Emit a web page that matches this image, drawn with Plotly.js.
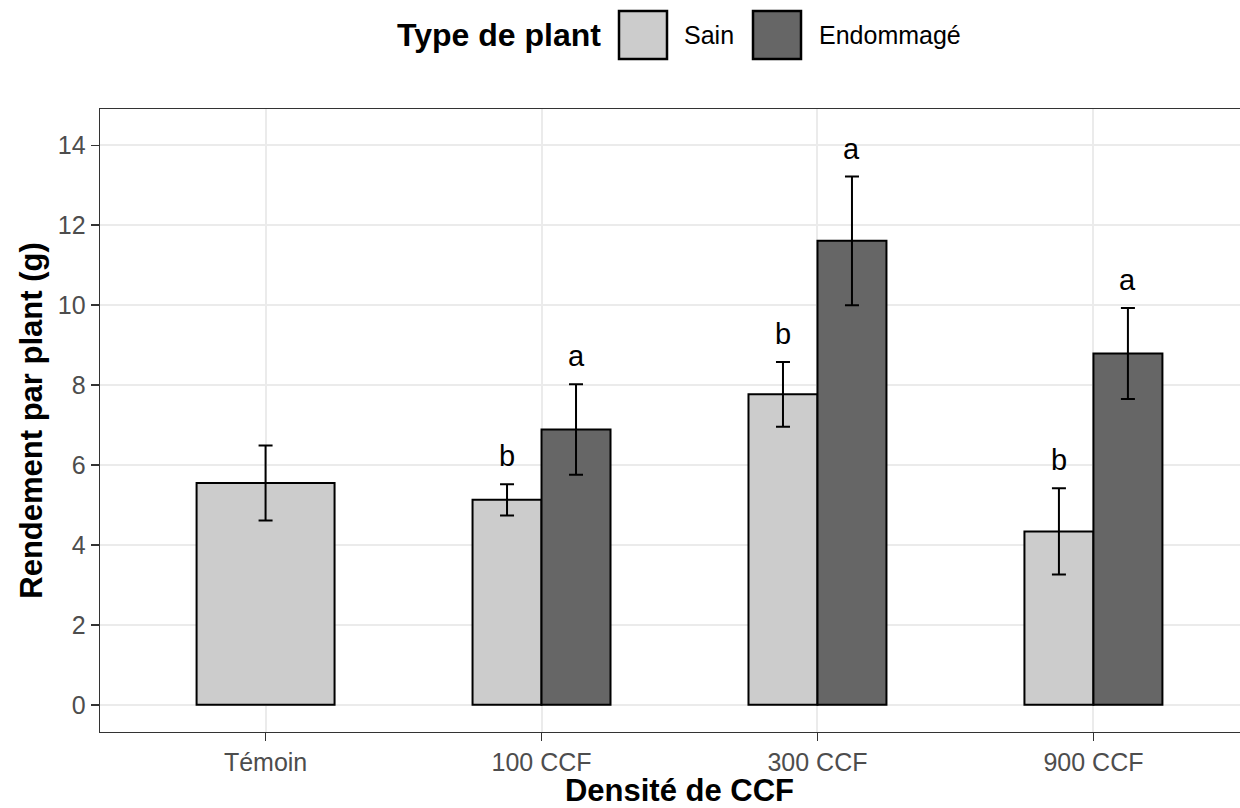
<!DOCTYPE html>
<html>
<head>
<meta charset="utf-8">
<script src="https://cdn.plot.ly/plotly-3.0.1.min.js"></script>
<style>
  html, body { margin: 0; padding: 0; overflow: hidden; background: #ffffff; }
  #chart { width: 1262px; height: 808px; }
</style>
</head>
<body>
<div id="chart"></div>
<script>
// Rendement moyen par plant (g) selon la densité de CCF
const categories = ["Témoin", "100 CCF", "300 CCF", "900 CCF"];

const sainX = ["Témoin", "100 CCF", "300 CCF", "900 CCF"];
const sainMean = [5.55, 5.13, 7.77, 4.34];
const sainSE = [0.94, 0.39, 0.81, 1.08];
const sainLetters = ["", "b", "b", "b"];

const endoX = ["100 CCF", "300 CCF", "900 CCF"];
const endoMean = [6.89, 11.61, 8.79];
const endoSE = [1.13, 1.61, 1.14];
const endoLetters = ["a", "a", "a"];

const seriesNames = ["Sain", "Endommagé"];
const legendTitle = "Type de plant";
const xTitle = "Densité de CCF";
const yTitle = "Rendement par plant (g)";
const yTicks = [0, 2, 4, 6, 8, 10, 12, 14];

const FONT = "Liberation Sans, Arial, sans-serif";
const LIGHT = "#CCCCCC";
const DARK = "#666666";

// plot area geometry (pixels) used for the hand-drawn legend
const W = 1262, H = 808;
const M = { l: 100, r: 3, t: 109, b: 76 };
const plotW = W - M.l - M.r, plotH = H - M.t - M.b;
const px2x = px => (px - M.l) / plotW;

const errStyle = { type: "data", visible: true, color: "#000000", thickness: 2, width: 7 };

// Témoin has only one bar, so it spans the full dodge width
const sainWidth = sainX.map(c => (c === "Témoin" ? 0.5 : 0.25));
const sainOffset = sainX.map(() => -0.25);

const traces = [
  {
    type: "bar",
    name: seriesNames[0],
    x: sainX,
    y: sainMean,
    width: sainWidth,
    offset: sainOffset,
    marker: { color: LIGHT, line: { color: "#000000", width: 2 } },
    error_y: Object.assign({ array: sainSE }, errStyle),
    showlegend: false,
    hoverinfo: "x+y"
  },
  {
    type: "bar",
    name: seriesNames[1],
    x: endoX,
    y: endoMean,
    width: endoX.map(() => 0.25),
    offset: endoX.map(() => 0),
    marker: { color: DARK, line: { color: "#000000", width: 2 } },
    error_y: Object.assign({ array: endoSE }, errStyle),
    showlegend: false,
    hoverinfo: "x+y"
  }
];

// significance letters sit just above each error bar
const annotations = [];
sainX.forEach((c, i) => {
  if (!sainLetters[i]) return;
  const center = c === "Témoin" ? 0 : -0.125;
  annotations.push({
    x: categories.indexOf(c) + center, y: sainMean[i] + sainSE[i],
    xref: "x", yref: "y", text: sainLetters[i], showarrow: false,
    yanchor: "bottom", yshift: 10,
    font: { family: FONT, size: 29, color: "#000000" }
  });
});
endoX.forEach((c, i) => {
  annotations.push({
    x: categories.indexOf(c) + 0.125, y: endoMean[i] + endoSE[i],
    xref: "x", yref: "y", text: endoLetters[i], showarrow: false,
    yanchor: "bottom", yshift: 10,
    font: { family: FONT, size: 29, color: "#000000" }
  });
});

// legend drawn above the panel: title, two large keys and their labels
const legendMidY = 35;                       // px from top of the page
const yAbove = px => (M.t - px) / plotH;     // paper offset above the panel
annotations.push({
  xref: "paper", yref: "paper", x: px2x(395), y: 1 + yAbove(legendMidY),
  xanchor: "left", yanchor: "middle", showarrow: false,
  text: "<b>" + legendTitle + "</b>",
  font: { family: FONT, size: 32, color: "#000000" }
});
annotations.push({
  xref: "paper", yref: "paper", x: px2x(682), y: 1 + yAbove(legendMidY),
  xanchor: "left", yanchor: "middle", showarrow: false,
  text: seriesNames[0],
  font: { family: FONT, size: 25, color: "#000000" }
});
annotations.push({
  xref: "paper", yref: "paper", x: px2x(817), y: 1 + yAbove(legendMidY),
  xanchor: "left", yanchor: "middle", showarrow: false,
  text: seriesNames[1],
  font: { family: FONT, size: 25, color: "#000000" }
});

const keyBox = (leftPx, fill) => ({
  type: "rect", xref: "paper", yref: "paper",
  xsizemode: "pixel", ysizemode: "pixel",
  xanchor: px2x(leftPx), yanchor: 1,
  x0: 0, x1: 48, y0: M.t - 59, y1: M.t - 11,
  fillcolor: fill, line: { color: "#000000", width: 2.5 }
});

const layout = {
  width: W, height: H,
  margin: M,
  paper_bgcolor: "#ffffff",
  plot_bgcolor: "#ffffff",
  barmode: "overlay",
  font: { family: FONT, color: "#000000" },
  xaxis: {
    type: "category",
    categoryorder: "array",
    categoryarray: categories,
    range: [-0.6, 3.6],
    showgrid: true, gridcolor: "#EBEBEB", gridwidth: 2,
    showline: true, mirror: true, linecolor: "#333333", linewidth: 1.4,
    ticks: "outside", ticklen: 8, tickwidth: 1.6, tickcolor: "#333333",
    tickfont: { family: FONT, size: 25, color: "#4D4D4D" },
    zeroline: false,
    title: { text: "<b>" + xTitle + "</b>", standoff: 2,
             font: { family: FONT, size: 31, color: "#000000" } },
    automargin: false
  },
  yaxis: {
    range: [-0.68, 14.91],
    tickvals: yTicks,
    ticktext: yTicks.map(String),
    showgrid: true, gridcolor: "#EBEBEB", gridwidth: 2,
    showline: true, mirror: true, linecolor: "#333333", linewidth: 1.4,
    ticks: "outside", ticklen: 8, tickwidth: 1.6, tickcolor: "#333333",
    tickfont: { family: FONT, size: 25, color: "#4D4D4D" },
    zeroline: false,
    title: { text: "<b>" + yTitle + "</b>", standoff: 6,
             font: { family: FONT, size: 31, color: "#000000" } },
    automargin: false
  },
  annotations: annotations,
  shapes: [keyBox(619, LIGHT), keyBox(753, DARK)],
  showlegend: false
};

Plotly.newPlot("chart", traces, layout, { displayModeBar: false, staticPlot: true });
</script>
</body>
</html>
